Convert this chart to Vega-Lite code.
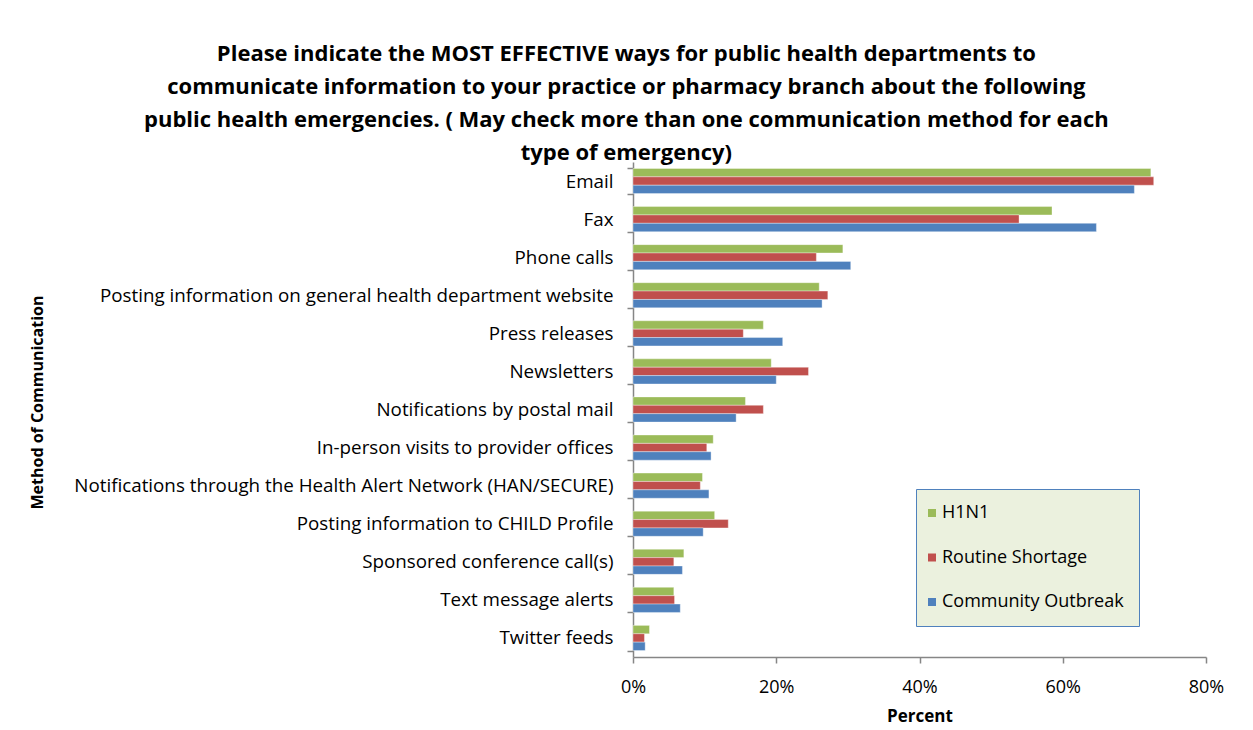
{
  "$schema": "https://vega.github.io/schema/vega-lite/v6.json",
  "autosize": {"type": "none"},
  "padding": {"left": 633, "top": 162, "right": 47, "bottom": 73},
  "width": 573,
  "height": 495,
  "background": "white",
  "title": {
    "text": ["Please indicate the MOST EFFECTIVE ways for public health departments to", "communicate information to your practice or pharmacy branch about the following", "public health emergencies. ( May check more than one communication method for each", "type of emergency)"],
    "font": "Open Sans",
    "fontSize": 22,
    "fontWeight": "bold",
    "color": "black",
    "lineHeight": 33,
    "anchor": "middle",
    "frame": "bounds",
    "offset": -12
  },
  "data": {
    "values": [
      {"method": "Email", "type": "H1N1", "pct": 72.3},
      {"method": "Email", "type": "Routine Shortage", "pct": 72.7},
      {"method": "Email", "type": "Community Outbreak", "pct": 70.0},
      {"method": "Fax", "type": "H1N1", "pct": 58.5},
      {"method": "Fax", "type": "Routine Shortage", "pct": 53.9},
      {"method": "Fax", "type": "Community Outbreak", "pct": 64.7},
      {"method": "Phone calls", "type": "H1N1", "pct": 29.3},
      {"method": "Phone calls", "type": "Routine Shortage", "pct": 25.6},
      {"method": "Phone calls", "type": "Community Outbreak", "pct": 30.4},
      {"method": "Posting information on general health department website", "type": "H1N1", "pct": 26.0},
      {"method": "Posting information on general health department website", "type": "Routine Shortage", "pct": 27.2},
      {"method": "Posting information on general health department website", "type": "Community Outbreak", "pct": 26.4},
      {"method": "Press releases", "type": "H1N1", "pct": 18.2},
      {"method": "Press releases", "type": "Routine Shortage", "pct": 15.4},
      {"method": "Press releases", "type": "Community Outbreak", "pct": 20.9},
      {"method": "Newsletters", "type": "H1N1", "pct": 19.3},
      {"method": "Newsletters", "type": "Routine Shortage", "pct": 24.5},
      {"method": "Newsletters", "type": "Community Outbreak", "pct": 20.0},
      {"method": "Notifications by postal mail", "type": "H1N1", "pct": 15.7},
      {"method": "Notifications by postal mail", "type": "Routine Shortage", "pct": 18.2},
      {"method": "Notifications by postal mail", "type": "Community Outbreak", "pct": 14.4},
      {"method": "In-person visits to provider offices", "type": "H1N1", "pct": 11.2},
      {"method": "In-person visits to provider offices", "type": "Routine Shortage", "pct": 10.3},
      {"method": "In-person visits to provider offices", "type": "Community Outbreak", "pct": 10.9},
      {"method": "Notifications through the Health Alert Network (HAN/SECURE)", "type": "H1N1", "pct": 9.7},
      {"method": "Notifications through the Health Alert Network (HAN/SECURE)", "type": "Routine Shortage", "pct": 9.4},
      {"method": "Notifications through the Health Alert Network (HAN/SECURE)", "type": "Community Outbreak", "pct": 10.6},
      {"method": "Posting information to CHILD Profile", "type": "H1N1", "pct": 11.4},
      {"method": "Posting information to CHILD Profile", "type": "Routine Shortage", "pct": 13.3},
      {"method": "Posting information to CHILD Profile", "type": "Community Outbreak", "pct": 9.8},
      {"method": "Sponsored conference call(s)", "type": "H1N1", "pct": 7.1},
      {"method": "Sponsored conference call(s)", "type": "Routine Shortage", "pct": 5.7},
      {"method": "Sponsored conference call(s)", "type": "Community Outbreak", "pct": 6.9},
      {"method": "Text message alerts", "type": "H1N1", "pct": 5.7},
      {"method": "Text message alerts", "type": "Routine Shortage", "pct": 5.8},
      {"method": "Text message alerts", "type": "Community Outbreak", "pct": 6.6},
      {"method": "Twitter feeds", "type": "H1N1", "pct": 2.3},
      {"method": "Twitter feeds", "type": "Routine Shortage", "pct": 1.6},
      {"method": "Twitter feeds", "type": "Community Outbreak", "pct": 1.7}
    ]
  },
  "mark": {"type": "bar", "stroke": "white", "strokeWidth": 0.6, "strokeOpacity": 0.6},
  "encoding": {
    "y": {
      "field": "method",
      "type": "nominal",
      "sort": null,
      "scale": {"paddingInner": 0.34, "paddingOuter": 0.17},
      "axis": {
        "title": "Method of Communication",
        "titleFont": "Open Sans",
        "titleFontSize": 16,
        "titleFontWeight": "bold",
        "titleColor": "black",
        "titleX": -588,
        "titleY": 240,
        "labelFont": "Open Sans",
        "labelFontSize": 18.8,
        "labelColor": "black",
        "labelPadding": 14,
        "labelLimit": 700,
        "tickBand": "extent",
        "tickSize": 6,
        "tickColor": "#868686",
        "tickWidth": 1.5,
        "domainColor": "#868686",
        "domainWidth": 1.5
      }
    },
    "yOffset": {
      "field": "type",
      "type": "nominal",
      "sort": ["H1N1", "Routine Shortage", "Community Outbreak"],
      "scale": {"paddingInner": 0, "paddingOuter": 0}
    },
    "x": {
      "field": "pct",
      "type": "quantitative",
      "scale": {"domain": [0, 80], "nice": false},
      "axis": {
        "title": "Percent",
        "titleFont": "Open Sans",
        "titleFontSize": 17,
        "titleFontWeight": "bold",
        "titleColor": "black",
        "titlePadding": 12,
        "values": [0, 20, 40, 60, 80],
        "labelExpr": "datum.value + '%'",
        "labelFont": "Open Sans",
        "labelFontSize": 18,
        "labelColor": "black",
        "labelPadding": 15,
        "labelFlush": false,
        "grid": false,
        "tickSize": 6,
        "tickColor": "#868686",
        "tickWidth": 1.5,
        "domainColor": "#868686",
        "domainWidth": 1.5
      }
    },
    "color": {
      "field": "type",
      "type": "nominal",
      "sort": ["H1N1", "Routine Shortage", "Community Outbreak"],
      "scale": {"domain": ["H1N1", "Routine Shortage", "Community Outbreak"], "range": ["#9bbb59", "#c0504d", "#4f81bd"]},
      "legend": {
        "title": null,
        "orient": "none",
        "legendX": 283,
        "legendY": 327,
        "fillColor": "#ebf1de",
        "strokeColor": "#4f81bd",
        "padding": 15,
        "rowPadding": 26.5,
        "symbolType": "square",
        "symbolSize": 64,
        "symbolOffset": -8,
        "symbolStrokeWidth": 0,
        "symbolOpacity": 1,
        "labelFont": "Open Sans",
        "labelFontSize": 18,
        "labelColor": "black",
        "labelOffset": 1,
        "labelLimit": 300
      }
    }
  },
  "config": {
    "view": {"stroke": null}
  }
}
